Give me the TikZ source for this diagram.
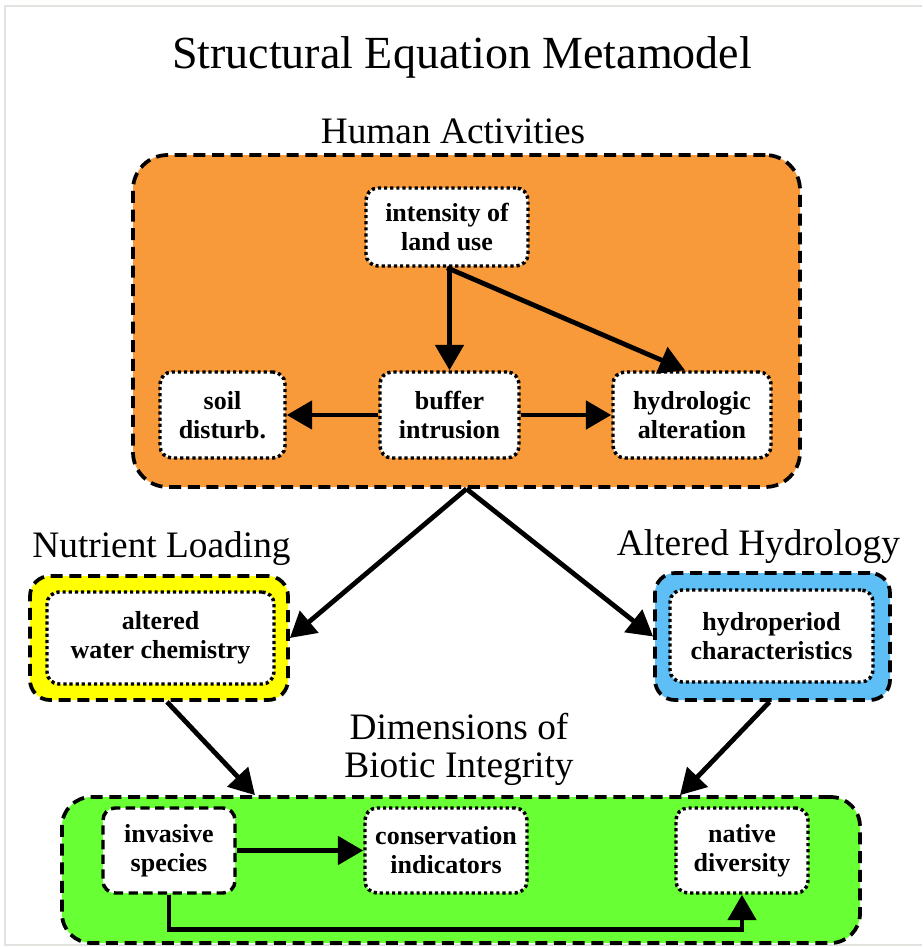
\documentclass[tikz,border=0pt]{standalone}
\usepackage{fontspec}
\setmainfont{Liberation Serif}
\usetikzlibrary{arrows.meta,calc}

\definecolor{humanorange}{RGB}{248,154,58}
\definecolor{nutrientyellow}{RGB}{255,255,0}
\definecolor{hydroblue}{RGB}{94,190,246}
\definecolor{bioticgreen}{RGB}{104,255,52}
\definecolor{framegray}{RGB}{226,226,222}

\begin{document}
\begin{tikzpicture}[x=0.75pt,y=-0.75pt,
  group/.style={draw=black, line width=2.8pt, dash pattern=on 9pt off 5pt,
    rounded corners=#1, inner sep=0pt},
  group/.default=26pt,
  item/.style={draw=black, fill=white, line width=2.6pt,
    dash pattern=on 2.4pt off 2.2pt, rounded corners=9pt, align=center,
    inner sep=0pt, font=\fontsize{19.5}{21.75}\selectfont\bfseries},
  dashitem/.style={item, dash pattern=on 7pt off 4pt},
  heading/.style={anchor=base, inner sep=0pt, font=\fontsize{28}{30}\selectfont},
  arr/.style={line width=3.6pt, -{Triangle[length=19pt,width=21pt]}},
]
\useasboundingbox (0,0) rectangle (922,947);

% thin frame along the top, left and bottom edges
\draw[framegray, line width=1.2pt] (922,6) -- (5,6) -- (5,945) -- (922,945);

% title and group headings
\node[anchor=base, inner sep=0pt, font=\fontsize{34.5}{36}\selectfont] (title) at (462,68) {Structural Equation Metamodel};
\node[heading] (hHuman) at (453,143) {Human Activities};
\node[heading] (hNutrient) at (161.5,557) {Nutrient Loading};
\node[heading] (hHydro) at (758.5,555) {Altered Hydrology};
\node[heading] (hDim) at (459,739) {Dimensions of};
\node[heading] (hBiotic) at (459,777) {Biotic Integrity};

% group containers
\node[group, fill=humanorange, minimum width=500.25pt, minimum height=249pt] (human) at (466.5,321) {};
\node[group=15pt, fill=nutrientyellow, minimum width=193.5pt, minimum height=93pt] (nutrient) at (159,638) {};
\node[group=15pt, fill=hydroblue, minimum width=176.25pt, minimum height=95.25pt] (hydrology) at (772.5,636.5) {};
\node[group=22pt, fill=bioticgreen, minimum width=598.5pt, minimum height=109.5pt] (biotic) at (461,870) {};

% human activities
\node[item, minimum width=121.5pt, minimum height=58.5pt] (intensity) at (447,227) {intensity of\\land use};
\node[item, minimum width=93.75pt, minimum height=64.5pt] (soil) at (222.5,415) {soil\\disturb.};
\node[item, minimum width=104.25pt, minimum height=64.5pt] (buffer) at (449.5,415) {buffer\\intrusion};
\node[item, minimum width=118.5pt, minimum height=64.5pt] (hydrologic) at (692,415) {hydrologic\\alteration};

% nutrient loading and altered hydrology
\node[item, minimum width=170.25pt, minimum height=69pt] (water) at (160.5,638) {altered\\water chemistry};
\node[item, minimum width=152.25pt, minimum height=69pt] (hydroperiod) at (771.5,636) {hydroperiod\\characteristics};

% biotic integrity
\node[dashitem, minimum width=99pt, minimum height=63.75pt] (invasive) at (169,850.5) {invasive\\species};
\node[item, minimum width=121.5pt, minimum height=63.75pt] (conservation) at (446,850.5) {conservation\\indicators};
\node[item, minimum width=99pt, minimum height=63.75pt] (native) at (742,850.5) {native\\diversity};

% paths within human activities
\draw[arr] (buffer.north |- intensity.south) -- (buffer.north);
\draw[arr] (intensity.south) -- ($(hydrologic.north)+(-7,0)$);
\draw[arr] (buffer.west) -- (soil.east);
\draw[arr] (buffer.east) -- (hydrologic.west);

% paths between groups
\draw[arr] (human.south) -- (nutrient.east);
\draw[arr] (human.south) -- (hydrology.west);
\draw[arr] ($(nutrient.south)+(8,0)$) -- ($(biotic.north)+(-206,0)$);
\draw[arr] ($(hydrology.south)+(-3,0)$) -- ($(biotic.north)+(219,0)$);

% paths within biotic integrity
\draw[arr] (invasive.east) -- (conservation.west);
\draw[arr] (invasive.south) -- ++(0,35) -| (native.south);
\end{tikzpicture}
\end{document}
